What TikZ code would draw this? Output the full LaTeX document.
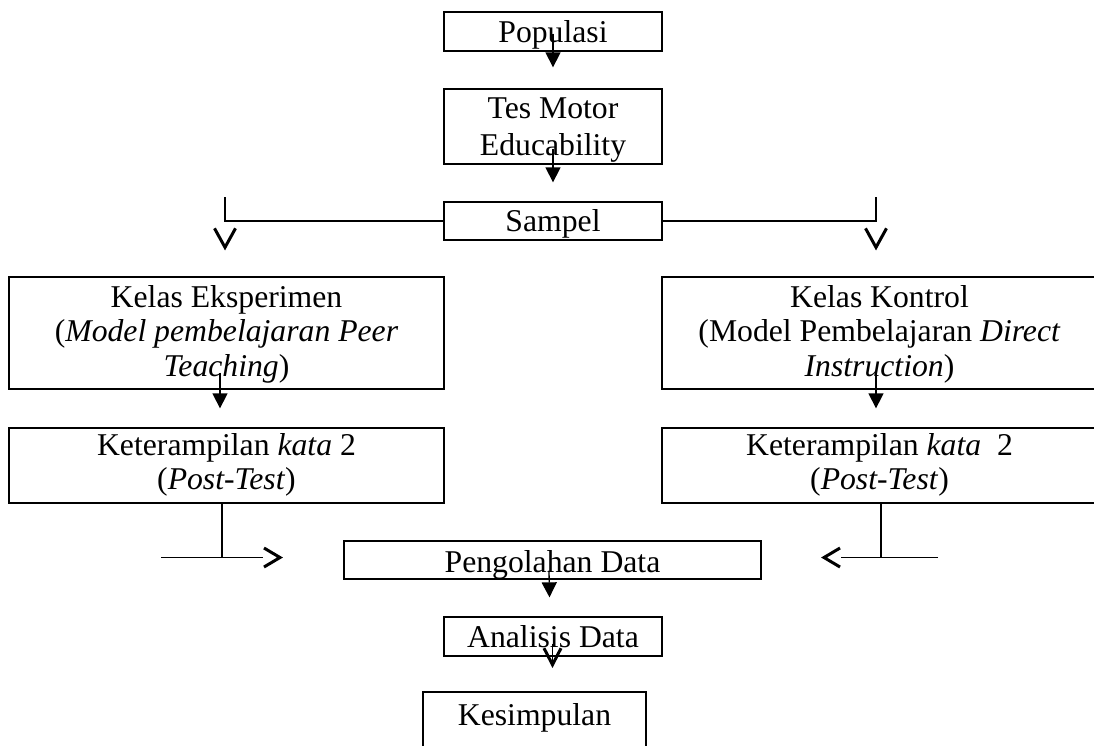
\documentclass[tikz,border=0pt]{standalone}
\usepackage{fontspec}
\setmainfont{Liberation Serif}
\usetikzlibrary{arrows.meta}
\tikzset{
  box/.style={draw, line width=1.3pt, inner sep=0pt},
  txt/.style={anchor=base, align=center, inner sep=0pt, font=\fontsize{31.7}{34.5}\selectfont},
  flow/.style={line width=1.3pt, -{Triangle[length=15pt,width=15pt]}},
  conn/.style={line width=1.3pt},
  vee/.style={line width=3pt},
}

\begin{document}
\begin{tikzpicture}[x=1pt,y=-1pt]
\useasboundingbox (0,0) rectangle (1094,745);
\clip (0,0) rectangle (1094,745);

% kotak
\node[box, minimum width=218, minimum height=39] (pop) at (553,31.5) {};
\node[box, minimum width=218, minimum height=75] (tes) at (553,126.5) {};
\node[box, minimum width=218, minimum height=38] (sam) at (553,221) {};
\node[box, minimum width=435, minimum height=112] (kelE) at (226.5,333) {};
\node[box, minimum width=435, minimum height=112] (kelK) at (879.5,333) {};
\node[box, minimum width=435, minimum height=75] (ketE) at (226.5,465.5) {};
\node[box, minimum width=435, minimum height=75] (ketK) at (879.5,465.5) {};
\node[box, minimum width=417, minimum height=38] (peng) at (552.5,560) {};
\node[box, minimum width=218, minimum height=39] (ana) at (553,636.5) {};
\node[box, line width=2.6pt, minimum width=223, minimum height=60] (kes) at (534.5,722) {};

% teks (base = baris terakhir)
\node[txt] (popt) at ([yshift=-31pt]pop.north) {Populasi};
\node[txt, font=\fontsize{31.7}{37.5}\selectfont] (test) at ([yshift=-67.5pt]tes.north) {Tes Motor\\Educability};
\node[txt] (samt) at ([yshift=-30pt]sam.north) {Sampel};
\node[txt] (kelEt) at ([yshift=-100pt]kelE.north) {Kelas Eksperimen\\(\textit{Model pembelajaran Peer}\\\textit{Teaching})};
\node[txt] (kelKt) at ([yshift=-100pt]kelK.north) {Kelas Kontrol\\(Model Pembelajaran \textit{Direct}\\\textit{Instruction})};
\node[txt] (ketEt) at ([yshift=-62.5pt]ketE.north) {Keterampilan \textit{kata} 2\\(\textit{Post-Test})};
\node[txt] (ketKt) at ([yshift=-62.5pt]ketK.north) {Keterampilan \textit{kata}\ \ 2\\(\textit{Post-Test})};
\node[txt] (pengt) at ([yshift=-32pt]peng.north) {Pengolahan Data};
\node[txt] (anat) at ([yshift=-31pt]ana.north) {Analisis Data};
\node[txt] (kest) at ([yshift=-35pt]kes.north) {Kesimpulan};

% panah
\draw[flow] ([yshift=18pt]pop.south) -- ([yshift=21pt]tes.north);
\draw[flow] ([yshift=16pt]tes.south) -- ([yshift=19pt]sam.north);

\coordinate (lv) at (225,197);
\coordinate (rv) at (876,197);
\coordinate (lh) at ([xshift=-1.5pt,yshift=29pt]kelE.north);
\coordinate (rh) at ([xshift=-3.5pt,yshift=29pt]kelK.north);
\draw[conn] (sam.west) -| (lv);
\draw[conn] (sam.east) -| (rv);
\draw[vee] (lh) ++(-10.5,-19) -- (lh) -- ++(10.5,-19);
\draw[vee] (rh) ++(-10.5,-19) -- (rh) -- ++(10.5,-19);

\draw[flow] ([xshift=-6.5pt,yshift=17pt]kelE.south) -- ([xshift=-6.5pt,yshift=19pt]ketE.north);
\draw[flow] ([xshift=-3.5pt,yshift=17pt]kelK.south) -- ([xshift=-3.5pt,yshift=19pt]ketK.north);

\coordinate (la) at (161,557.5);
\coordinate (lb) at (263,557.5);
\coordinate (ra) at (938,557.5);
\coordinate (rb) at (841,557.5);
\draw[conn] (la) -- (lb) ([xshift=-4.5pt]ketE.south) |- (lb);
\draw[conn] (ra) -- (rb) ([xshift=1.5pt]ketK.south) |- (ra);
\draw[vee] (lb) ++(1,-9.5) -- ++(16,9.5) -- ++(-16,9.5);
\draw[vee] (rb) ++(-1,-9.5) -- ++(-16,9.5) -- ++(16,9.5);

\draw[flow] ([xshift=-3.5pt,yshift=9pt]peng.south) -- ([xshift=-3.5pt,yshift=19pt]ana.north);

\coordinate (ah) at ([xshift=18pt,yshift=26pt]kes.north);
\draw[conn] ([xshift=-0.5pt,yshift=13pt]ana.south) -- (ah);
\draw[vee] (ah) ++(-8.5,-16.5) -- (ah) -- ++(8.5,-16.5);
\end{tikzpicture}
\end{document}
